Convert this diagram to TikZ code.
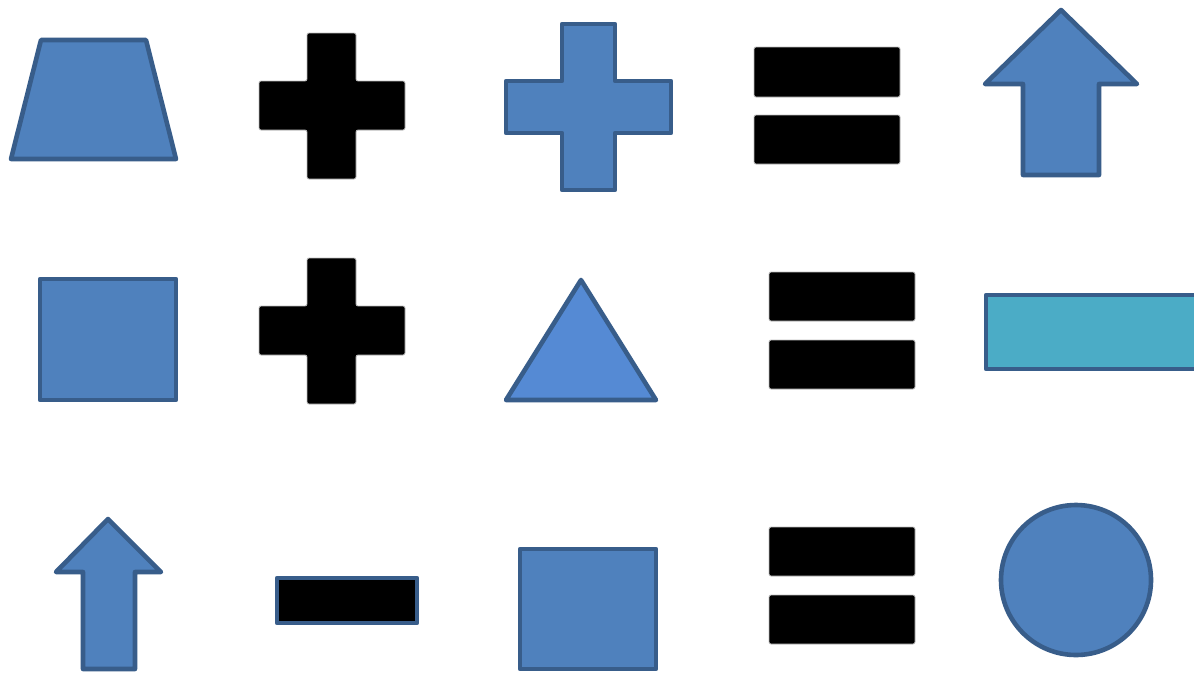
\documentclass[tikz,border=0pt]{standalone}
\definecolor{fillblue}{HTML}{4F81BD}
\definecolor{trifill}{HTML}{558AD4}
\definecolor{strokeblue}{HTML}{385D8A}
\definecolor{teal}{HTML}{4BACC6}
\tikzset{
  blueshape/.style={fill=fillblue, draw=strokeblue, line width=4.6pt, line join=round},
  blackshape/.style={fill=black, draw=black!25, line width=0.8pt, rounded corners=2pt},
}
\begin{document}
\begin{tikzpicture}[x=1pt,y=-1pt]
\useasboundingbox (0,0) rectangle (1194,673);
\clip (0,0) rectangle (1194,673);
\fill[white] (0,0) rectangle (1194,673);
% Row 1
\draw[blueshape] (41,40) -- (146,40) -- (176,159) -- (11,159) -- cycle;
\draw[blackshape] (307,33) -- (356,33) -- (356,81) -- (405,81) -- (405,130) -- (356,130) -- (356,179) -- (307,179) -- (307,130) -- (259,130) -- (259,81) -- (307,81) -- cycle;
\draw[blueshape] (562,24) -- (615,24) -- (615,81) -- (671,81) -- (671,133) -- (615,133) -- (615,190) -- (562,190) -- (562,133) -- (506,133) -- (506,81) -- (562,81) -- cycle;
\draw[blackshape] (754,47) rectangle (900,97);
\draw[blackshape] (754,115) rectangle (900,164);
\draw[blueshape] (1061,10) -- (1137,84) -- (1099,84) -- (1099,175) -- (1023,175) -- (1023,84) -- (985,84) -- cycle;
% Row 2
\draw[blueshape] (40,279) rectangle (176,400);
\draw[blackshape] (307,258) -- (356,258) -- (356,306) -- (405,306) -- (405,355) -- (356,355) -- (356,404) -- (307,404) -- (307,355) -- (259,355) -- (259,306) -- (307,306) -- cycle;
\draw[blueshape, fill=trifill] (581,280) -- (656,400) -- (506,400) -- cycle;
\draw[blackshape] (769,272) rectangle (915,321);
\draw[blackshape] (769,340) rectangle (915,389);
\draw[blueshape, fill=teal] (986,295) rectangle (1200,369);
% Row 3
\draw[blueshape] (108,519) -- (161,572) -- (135,572) -- (135,669) -- (83,669) -- (83,572) -- (56,572) -- cycle;
\draw[blueshape, fill=black] (277,578) rectangle (417,623);
\draw[blueshape] (520,549) rectangle (656,669);
\draw[blackshape] (769,527) rectangle (915,576);
\draw[blackshape] (769,595) rectangle (915,644);
\draw[blueshape] (1076,580) circle[radius=75];
\end{tikzpicture}
\end{document}
